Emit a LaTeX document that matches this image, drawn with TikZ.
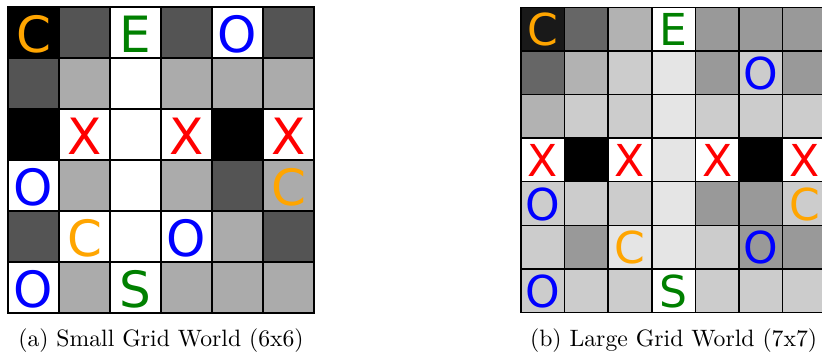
\documentclass[tikz,border=0pt]{standalone}
\usepackage{fontspec}
\newfontfamily\gridfont{DejaVu Sans}
\definecolor{mplorange}{HTML}{FFA500}
\definecolor{mplgreen}{HTML}{008000}
\definecolor{mplblue}{HTML}{0000FF}
\definecolor{mplred}{HTML}{FF0000}
\tikzset{
  gridline/.style={line width=1.5pt, black, line cap=rect},
  bigletter/.style={anchor=base, inner sep=0pt, font=\gridfont\fontsize{50}{50}\selectfont},
  smallletter/.style={anchor=base, inner sep=0pt, font=\gridfont\fontsize{44}{44}\selectfont},
  captiontext/.style={anchor=base, inner sep=0pt, font=\fontsize{10}{12}\selectfont, scale=2.37}
}
\begin{document}
\begin{tikzpicture}[x=1pt,y=-1pt]
\clip (0,0) rectangle (822,354);
\fill[white] (0,0) rectangle (822,354);
% ---------- left grid 6x6 ----------
\begin{scope}[shift={(8,7)}]
\foreach \r/\vals in {0/{0,33,100,33,100,33},1/{33,67,100,67,67,67},2/{0,100,100,100,0,100},3/{100,67,100,67,33,67},4/{33,100,100,100,67,33},5/{100,67,100,67,67,67}}{
  \foreach \v [count=\c from 0] in \vals {
    \fill[white!\v!black] (\c*51,\r*51) rectangle ++(51,51);
  }
}
\foreach \i in {0,...,6}{
  \draw[gridline] (\i*51,0) -- (\i*51,306);
  \draw[gridline] (0,\i*51) -- (306,\i*51);
}
\foreach \r/\c/\col/\t in {0/0/mplorange/C,0/2/mplgreen/E,0/4/mplblue/O,2/1/mplred/X,2/3/mplred/X,2/5/mplred/X,3/0/mplblue/O,3/5/mplorange/C,4/1/mplorange/C,4/3/mplblue/O,5/0/mplblue/O,5/2/mplgreen/S}{
  \node[bigletter, text=\col] (sl-\r-\c) at (\c*51+25.5, \r*51+25.5+19.5) {\t};
}
\end{scope}
% ---------- right grid 7x7 ----------
\begin{scope}[shift={(521,7.3)}]
\foreach \r/\vals in {0/{10,40,70,100,60,60,60},1/{40,70,80,90,60,80,60},2/{70,80,80,90,80,80,80},3/{100,0,100,90,100,0,100},4/{80,80,80,90,60,60,80},5/{80,60,90,90,80,60,60},6/{80,80,80,100,80,80,80}}{
  \foreach \v [count=\c from 0] in \vals {
    \fill[white!\v!black] (\c*43.6,\r*43.6) rectangle ++(43.6,43.6);
  }
}
\foreach \i in {0,...,7}{
  \draw[gridline] (\i*43.6,0) -- (\i*43.6,305.2);
  \draw[gridline] (0,\i*43.6) -- (305.2,\i*43.6);
}
\foreach \r/\c/\col/\t in {0/0/mplorange/C,0/3/mplgreen/E,1/5/mplblue/O,3/0/mplred/X,3/2/mplred/X,3/4/mplred/X,3/6/mplred/X,4/0/mplblue/O,4/6/mplorange/C,5/2/mplorange/C,5/5/mplblue/O,6/0/mplblue/O,6/3/mplgreen/S}{
  \node[smallletter, text=\col] (ll-\r-\c) at (\c*43.6+21.8, \r*43.6+21.8+16.5) {\t};
}
\end{scope}
% ---------- captions ----------
\node[captiontext] (capa) at (161,346) {(a) Small Grid World (6x6)};
\node[captiontext] (capb) at (673.6,346) {(b) Large Grid World (7x7)};
\end{tikzpicture}
\end{document}
